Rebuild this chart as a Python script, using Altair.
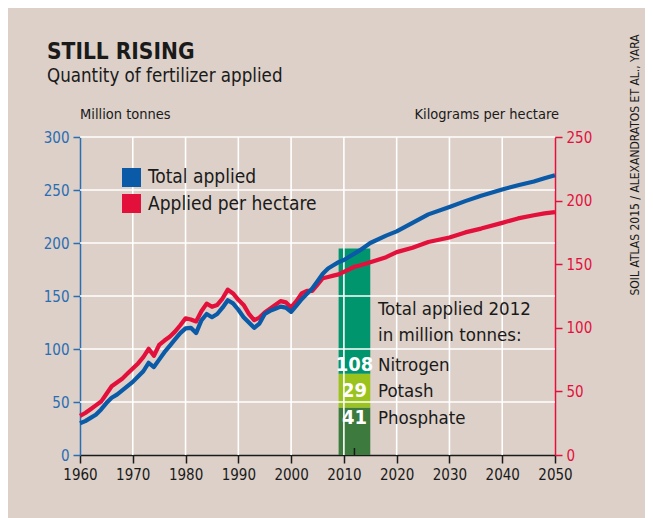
import altair as alt
import pandas as pd

# ---------------- data ----------------
years_hist = list(range(1960, 2014))
total_hist = [30, 32, 35, 38, 43, 49, 54, 57, 61, 65,
              69, 74, 79, 87, 83, 90, 97, 103, 109, 115,
              119.5, 120, 115, 127, 133, 130, 133, 139, 146, 143,
              137, 130, 125, 120, 124, 133, 136, 138, 140, 139,
              135, 141, 147, 152, 157, 164, 171, 176, 179, 182,
              184, 187, 190, 193]
per_ha_hist = [30.7, 33, 36, 39, 42, 48, 54, 57, 60, 64,
               68, 72, 77, 83.5, 78, 86.5, 90, 93, 97, 102,
               107.5, 106.5, 105, 113, 119, 116.5, 118, 123, 130, 127,
               122, 118, 111, 106, 108, 112, 115, 118, 121, 120,
               116, 121, 127, 129, 129, 134, 139, 140, 141, 142,
               144, 146, 148, 149]

years_proj = [2015, 2018, 2020, 2023, 2026, 2030, 2033, 2036, 2040, 2043, 2046, 2048, 2050]
total_proj = [200, 207, 211, 219, 227, 234, 239.5, 244.5, 250.5, 254.5, 258, 261, 264]
per_ha_proj = [151.5, 155.5, 159.5, 163, 167.5, 171, 175, 178, 182.5, 186, 188.5, 190, 191]

nutrients = ["Phosphate", "Potash", "Nitrogen"]
amounts_2012 = [41, 29, 108]
bar_years = [2009, 2015]

x_ticks = list(range(1960, 2051, 10))
left_ticks = list(range(0, 301, 50))
right_ticks = list(range(0, 251, 50))
grid_years = list(range(1970, 2041, 10))
grid_values = list(range(50, 301, 50))

series_names = ["Total applied", "Applied per hectare"]

# ---------------- styles ----------------
FONT = "Liberation Sans Narrow, DejaVu Sans Condensed, Arial Narrow, sans-serif"
BG = "#dcd0c8"
BLUE = "#0a5aa8"
BLUE_AX = "#2a6db3"
RED = "#e3103c"
INK = "#1a1a1a"
NUT_COLORS = ["#3c7a3d", "#9bc31d", "#00956d"]

W, H = 475, 318
TICK_FS = 15

blue_df = pd.DataFrame({"year": years_hist + years_proj, "v": total_hist + total_proj})
red_df = pd.DataFrame({"year": years_hist + years_proj, "v": per_ha_hist + per_ha_proj})

starts, ends = [], []
acc = 0
for a in amounts_2012:
    starts.append(acc)
    acc += a
    ends.append(acc)
bar_df = pd.DataFrame({
    "nutrient": nutrients, "start": starts, "end": ends,
    "x0": [bar_years[0]] * 3, "x1": [bar_years[1]] * 3,
})

x_scale = alt.Scale(domain=[x_ticks[0], x_ticks[-1]], nice=False, zero=False)
x_axis = alt.Axis(values=x_ticks, format="d", title=None, grid=False,
                  domainColor=INK, domainWidth=1.5, tickColor=INK, tickWidth=1.5,
                  tickSize=8, labelColor=INK, labelPadding=4, labelFontSize=TICK_FS,
                  labelFont=FONT, labelOverlap=False, labelFlush=False)

bar = alt.Chart(bar_df).mark_rect().encode(
    x=alt.X("x0:Q", scale=x_scale, axis=x_axis),
    x2="x1:Q",
    y=alt.Y("start:Q", scale=alt.Scale(domain=[0, 274], nice=False), axis=None),
    y2="end:Q",
    color=alt.Color("nutrient:N", scale=alt.Scale(domain=nutrients, range=NUT_COLORS), legend=None),
)

grid_v = alt.Chart(pd.DataFrame({"year": grid_years})).mark_rule(color="white", strokeWidth=1.6).encode(
    x=alt.X("year:Q", scale=x_scale, axis=x_axis),
    y=alt.value(0), y2=alt.value(H),
)
grid_h = alt.Chart(pd.DataFrame({"v": grid_values})).mark_rule(color="white", strokeWidth=1.6).encode(
    y=alt.Y("v:Q", scale=alt.Scale(domain=[0, 300], nice=False), axis=None),
    x=alt.value(0), x2=alt.value(W),
)

red_line = alt.Chart(red_df).mark_line(color=RED, strokeWidth=4.2, strokeJoin="round").encode(
    x=alt.X("year:Q", scale=x_scale, axis=x_axis),
    y=alt.Y("v:Q", scale=alt.Scale(domain=[0, 250], nice=False),
            axis=alt.Axis(orient="right", values=right_ticks, title=None, grid=False,
                          domainColor=RED, domainWidth=1.5, tickColor=RED, tickWidth=1.5,
                          tickSize=7, labelColor=RED, labelPadding=4, labelFontSize=TICK_FS,
                          labelFont=FONT)),
)
blue_line = alt.Chart(blue_df).mark_line(color=BLUE, strokeWidth=4.2, strokeJoin="round").encode(
    x=alt.X("year:Q", scale=x_scale, axis=x_axis),
    y=alt.Y("v:Q", scale=alt.Scale(domain=[0, 300], nice=False),
            axis=alt.Axis(orient="left", values=left_ticks, title=None, grid=False,
                          domainColor=BLUE_AX, domainWidth=1.5, tickColor=BLUE_AX, tickWidth=1.5,
                          tickSize=7, labelColor=BLUE_AX, labelPadding=4, labelFontSize=TICK_FS,
                          labelFont=FONT)),
)

bar_tick = alt.Chart(pd.DataFrame({"year": [2012]})).mark_rule(color=INK, strokeWidth=1.5).encode(
    x=alt.X("year:Q", scale=x_scale, axis=x_axis),
    y=alt.value(H - 7), y2=alt.value(H),
)


def label(text, x, y, size, color=INK, weight="normal", align="left",
          baseline="middle", angle=None, xdatum=None):
    kw = dict(align=align, baseline=baseline, fontSize=size, font=FONT,
              fontWeight=weight, color=color)
    if angle is not None:
        kw["angle"] = angle
    enc = dict(y=alt.value(y), text="t:N")
    if xdatum is not None:
        enc["x"] = alt.X(datum=xdatum, scale=x_scale, axis=x_axis)
    else:
        enc["x"] = alt.value(x)
    return alt.Chart(pd.DataFrame({"t": [text]})).mark_text(**kw).encode(**enc)


texts = [
    label("STILL RISING", -33, -78, 22.5, weight="bold", baseline="alphabetic"),
    label("Quantity of fertilizer applied", -33, -55, 18.6, baseline="alphabetic"),
    label("Million tonnes", 0, -22, 14.5),
    label("Kilograms per hectare", 479, -22, 14.5, align="right"),
    label("SOIL ATLAS 2015 / ALEXANDRATOS ET AL., YARA", 555, 28, 12, angle=270, align="center"),
    label(series_names[0], 68, 40, 19),
    label(series_names[1], 68, 67, 19),
    label("Total applied 2012", 298, 172, 18.5),
    label("in million tonnes:", 298, 198, 18.5),
]
row_y = {"Nitrogen": 228, "Potash": 254, "Phosphate": 281}
for name, amt in zip(nutrients, amounts_2012):
    texts.append(label(name, 298, row_y[name], 18.5))
    texts.append(label(str(amt), 0, row_y[name], 20, color="white", weight="bold",
                       align="center", xdatum=2012))

legend_sq = []
for name, col, yy in zip(series_names, [BLUE, RED], [40.5, 66.5]):
    legend_sq.append(
        alt.Chart(pd.DataFrame({"t": [name]})).mark_square(size=361, color=col, opacity=1).encode(
            x=alt.value(51.5), y=alt.value(yy))
    )

chart = alt.layer(bar, grid_v, grid_h, red_line, blue_line, bar_tick, *texts, *legend_sq).resolve_scale(
    y="independent"
).properties(
    width=W, height=H,
    autosize=alt.AutoSizeParams(type="none"),
    padding={"left": 72, "top": 129, "right": 90, "bottom": 68},
    background=BG,
).configure_view(stroke=None)

chart.save("out.html", embed_options={"renderer": "svg", "actions": False})
